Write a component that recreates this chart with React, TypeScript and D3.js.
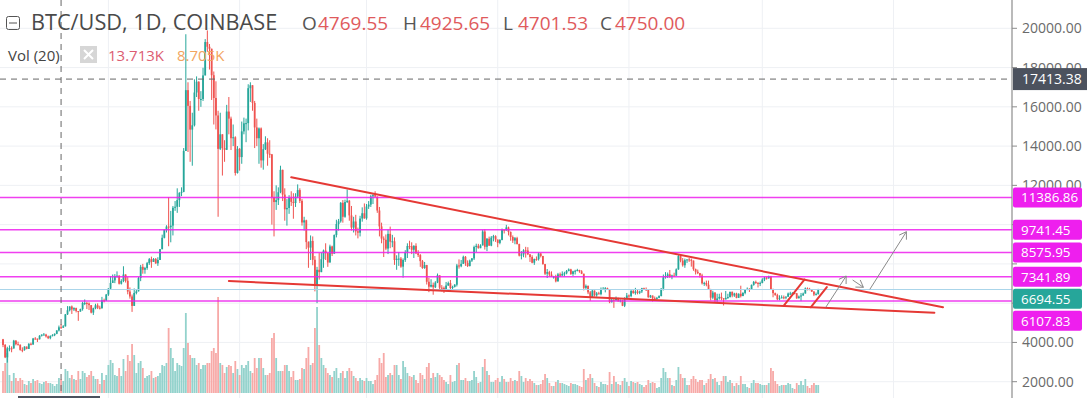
import React, { useEffect, useRef } from 'react';
import * as d3 from 'd3';

// BTC/USD daily candles, Coinbase, from 2017-09-13 to 2018-09-27
const firstDay = '2017-09-13';
const firstOpen = 4160;

const closes = [
    // Sep 2017
    3870, 3240, 3700, 3700, 3690, 4090, 3910, 3880, 3620, 3610, 3790, 3670, 3930, 3890, 4200, 4190, 4160, 4340,
    // Oct
    4400, 4400, 4310, 4220, 4330, 4370, 4440, 4610, 4769.55, 4750, 4820, 5430, 5640, 5830, 5680, 5750, 5600, 5580, 5700, 6010, 6010, 5980, 5900, 5520, 5740, 5890, 5770, 5750, 6150, 6130, 6440,
    // Nov
    6740, 7030, 7160, 7380, 7400, 6990, 7130, 7460, 7140, 6590, 6340, 5860, 6520, 6600, 7280, 7850, 7700, 7790, 8040, 8240, 8100, 8250, 8030, 8200, 8750, 9330, 9740, 9900, 9870, 9950,
    // Dec
    10860, 10910, 11250, 11620, 11670, 13750, 16850, 16050, 14840, 15060, 16730, 17280, 16400, 16400, 17600, 19300, 19060, 18960, 17610, 16450, 15560, 13860, 14600, 13900, 13810, 15760, 15400, 14400, 14450, 12630, 13860,
    // Jan 2018
    13440, 14750, 15160, 15170, 16950, 17100, 16200, 14950, 14400, 14900, 13270, 13840, 14190, 13610, 13580, 11400, 11150, 11250, 11650, 12790, 11530, 10780, 10850, 11380, 11160, 11100, 11430, 11760, 11210, 10110, 10220,
    // Feb
    9110, 8830, 9170, 8210, 6940, 7700, 7580, 8240, 8680, 8550, 8070, 8890, 8520, 9470, 10030, 10170, 11110, 10400, 11150, 11220, 10470, 9850, 10160, 9660, 9590, 10310, 10580, 10320,
    // Mar
    10920, 11020, 11440, 11500, 11430, 10720, 9910, 9290, 9230, 8780, 9530, 9130, 9150, 8200, 8260, 8270, 7860, 8200, 8600, 8910, 8900, 8720, 8920, 8540, 8450, 8140, 7790, 7940, 7090, 6840, 6930,
    // Apr
    6810, 7050, 7420, 6790, 6780, 6620, 6900, 7020, 6770, 6830, 6940, 7920, 7880, 8000, 8360, 8050, 7890, 8170, 8280, 8860, 8920, 8800, 8940, 9650, 8870, 9280, 8930, 9340, 9410, 9240,
    // May
    9070, 9220, 9740, 9700, 9860, 9630, 9370, 9190, 9310, 9010, 8420, 8480, 8690, 8680, 8490, 8350, 8060, 8250, 8240, 8530, 8400, 7990, 7500, 7580, 7460, 7350, 7350, 7110, 7470, 7400, 7490,
    // Jun
    7520, 7640, 7720, 7490, 7620, 7650, 7690, 7620, 7500, 6780, 6880, 6550, 6300, 6640, 6400, 6500, 6460, 6710, 6730, 6760, 6720, 6050, 6170, 6150, 6250, 6090, 6150, 5870, 6200, 6390,
    // Jul
    6360, 6620, 6510, 6590, 6530, 6600, 6760, 6710, 6670, 6300, 6390, 6250, 6220, 6270, 6360, 6740, 7320, 7380, 7470, 7330, 7410, 7400, 7720, 8400, 8170, 7930, 8190, 8230, 8210, 8170, 7730,
    // Aug
    7600, 7530, 7410, 7010, 7030, 6940, 6720, 6280, 6540, 6150, 6240, 6320, 6250, 6190, 6270, 6310, 6580, 6390, 6490, 6270, 6480, 6360, 6520, 6690, 6730, 6710, 6930, 7080, 7040, 6980, 7030,
    // Sep
    7200, 7300, 7270, 7370, 6700, 6510, 6410, 6200, 6250, 6300, 6290, 6330, 6490, 6490, 6520, 6500, 6250, 6340, 6390, 6490, 6750, 6710, 6700, 6590, 6440, 6460, 6694.55,
];

const highs = [
    4180, 3920, 3780, 3850, 3800, 4130, 4120, 4040, 3900, 3750, 3800, 3790, 3960, 3990, 4230, 4270, 4200, 4370,
    4410, 4480, 4440, 4350, 4360, 4420, 4460, 4620, 4860, 4925.65, 4880, 5450, 5850, 5840, 5880, 5790, 5770, 5600, 5720, 6070, 6190, 6070, 6040, 5900, 5770, 5970, 5990, 5870, 6320, 6230, 6470,
    6760, 7380, 7460, 7480, 7620, 7420, 7220, 7880, 7470, 7330, 6800, 6440, 6750, 6720, 7330, 7950, 8000, 7850, 8100, 8300, 8370, 8300, 8300, 8340, 8760, 9490, 9760, 9970, 11400, 10700,
    10950, 11200, 11850, 11650, 11900, 13900, 19697, 17250, 16300, 15700, 17400, 17550, 17300, 16800, 17990, 19450, 19891, 19200, 18960, 17800, 17300, 15800, 15700, 14600, 14300, 16100, 16500, 15500, 15100, 14500, 14000,
    13900, 15250, 15450, 15400, 17150, 17250, 17100, 16300, 15400, 14950, 14950, 14100, 14500, 14400, 14300, 13600, 11700, 12000, 11900, 13000, 12800, 11850, 11300, 11500, 11700, 11600, 11600, 12050, 11850, 11300, 10400,
    10250, 9150, 9450, 9400, 8400, 7850, 8550, 8580, 8730, 9050, 8550, 8980, 8930, 9500, 10250, 10290, 11150, 11250, 11270, 11790, 11250, 10950, 10400, 10500, 9850, 10450, 10880, 11080,
    11050, 11200, 11520, 11550, 11700, 11430, 10900, 10100, 9400, 9500, 9750, 9900, 9480, 9350, 8440, 8600, 8350, 8280, 8700, 9050, 9180, 9100, 8950, 9050, 8700, 8500, 8200, 8100, 7950, 7300, 7220,
    7050, 7120, 7510, 7420, 6920, 6850, 7080, 7100, 7180, 6890, 6970, 8000, 8230, 8200, 8420, 8400, 8180, 8220, 8300, 8930, 9030, 9020, 9000, 9730, 9760, 9320, 9390, 9420, 9480, 9460,
    9240, 9260, 9800, 9760, 9990, 9900, 9650, 9450, 9370, 9380, 9030, 8650, 8750, 8870, 8850, 8490, 8440, 8270, 8380, 8580, 8560, 8410, 8000, 7740, 7650, 7620, 7390, 7450, 7540, 7560, 7620,
    7600, 7690, 7770, 7750, 7650, 7700, 7750, 7700, 7680, 7500, 6950, 6900, 6620, 6700, 6650, 6570, 6580, 6800, 6820, 6820, 6790, 6720, 6260, 6250, 6340, 6280, 6190, 6170, 6300, 6520,
    6440, 6680, 6680, 6780, 6700, 6640, 6780, 6790, 6800, 6680, 6420, 6390, 6340, 6320, 6400, 6760, 7460, 7580, 7560, 7690, 7450, 7550, 7770, 8470, 8490, 8300, 8270, 8230, 8300, 8270, 8170,
    7760, 7710, 7540, 7500, 7090, 7150, 7150, 6730, 6630, 6560, 6480, 6480, 6540, 6260, 6620, 6480, 6580, 6590, 6530, 6530, 6500, 6890, 6560, 6720, 6800, 6760, 6950, 7130, 7150, 7060, 7100,
    7270, 7340, 7350, 7400, 7390, 6740, 6540, 6480, 6400, 6400, 6390, 6350, 6540, 6580, 6560, 6530, 6520, 6390, 6520, 6540, 6800, 6800, 6780, 6720, 6610, 6540, 6730,
];

const lows = [
    3760, 3200, 2972, 3550, 3500, 3690, 3850, 3850, 3580, 3500, 3580, 3650, 3670, 3850, 3890, 4140, 4020, 4150,
    4300, 4370, 4250, 4170, 4160, 4310, 4320, 4420, 4560, 4701.53, 4740, 4810, 5400, 5580, 5450, 5600, 5530, 5100, 5560, 5620, 5900, 5700, 5650, 5480, 5400, 5690, 5700, 5680, 5710, 6040, 6120,
    6370, 6700, 7030, 7020, 7300, 6950, 6950, 7070, 7050, 6450, 6230, 5555, 5860, 6450, 6600, 7120, 7500, 7500, 7700, 7950, 7800, 8100, 8000, 7900, 8200, 8740, 9300, 9600, 8900, 9100,
    9450, 10700, 10600, 10900, 11450, 11650, 13750, 13700, 13200, 13000, 15000, 16500, 15800, 16000, 16300, 17600, 18800, 17900, 16350, 15100, 14850, 10400, 13800, 12500, 13200, 13800, 14600, 13800, 14000, 12500, 12600,
    12750, 13100, 14600, 14200, 14800, 16250, 15800, 13900, 14000, 13100, 12900, 12800, 13800, 13000, 13400, 10000, 9400, 10750, 11000, 11600, 11200, 10200, 9950, 10550, 10950, 10300, 10900, 11350, 11100, 9950, 9700,
    8750, 7800, 8200, 7930, 6600, 6000, 7200, 7580, 7800, 8200, 7850, 8070, 8400, 8520, 9350, 9700, 10100, 10100, 10350, 11100, 10200, 9700, 9600, 9450, 9300, 9400, 10150, 10300,
    10250, 10800, 10900, 11050, 11400, 10600, 9400, 9050, 8350, 8700, 8500, 8800, 8850, 7950, 7700, 7900, 7800, 7300, 8100, 8300, 8750, 8500, 8300, 8500, 8350, 7850, 7750, 7750, 6950, 6560, 6800,
    6430, 6770, 7020, 6710, 6600, 6520, 6610, 6880, 6620, 6670, 6800, 6850, 7760, 7830, 8000, 7900, 7840, 7870, 8100, 8200, 8600, 8780, 8800, 8940, 8730, 8650, 8920, 8900, 9150, 9120,
    8850, 9000, 9200, 9550, 9700, 9450, 9180, 9070, 9000, 8990, 8380, 8230, 8340, 8320, 8450, 8100, 8030, 7950, 8160, 8170, 8330, 7960, 7430, 7280, 7350, 7330, 7250, 7060, 7100, 7340, 7400,
    7360, 7470, 7620, 7440, 7390, 7460, 7620, 7550, 7480, 6650, 6720, 6460, 6120, 6260, 6340, 6330, 6450, 6400, 6670, 6550, 6690, 6000, 6030, 5760, 6100, 6080, 6040, 5850, 5800, 6200,
    6270, 6300, 6480, 6430, 6450, 6460, 6520, 6670, 6620, 6280, 6270, 6080, 6120, 6180, 6250, 6350, 6650, 7250, 7280, 7290, 7220, 7390, 7390, 7700, 8080, 7860, 7800, 8050, 8100, 7860, 7650,
    7460, 7480, 7300, 6950, 6880, 6860, 6680, 6140, 6200, 6030, 6000, 6180, 6150, 5880, 6190, 6220, 6290, 6300, 6320, 6250, 6270, 6290, 6360, 6450, 6660, 6570, 6690, 6890, 6980, 6800, 6870,
    7010, 7120, 7200, 7240, 6690, 6300, 6380, 6150, 6150, 6240, 6200, 6200, 6320, 6420, 6480, 6450, 6220, 6240, 6100, 6380, 6490, 6650, 6680, 6570, 6360, 6400, 6440,
];

// thousands of BTC
const volumes = [
    22, 30, 40, 18, 12, 20, 15, 12, 15, 13, 9, 8, 12, 10, 14, 12, 13, 10,
    9, 11, 12, 10, 10, 9, 7, 9, 15, 13.713, 12, 24, 22, 15, 18, 14, 13, 22, 14, 22, 20, 16, 18, 22, 17, 14, 14, 9, 20, 13, 18,
    28, 33, 30, 18, 17, 25, 17, 34, 22, 38, 32, 49, 38, 20, 30, 32, 25, 15, 17, 18, 22, 15, 16, 17, 20, 28, 27, 30, 65, 45,
    35, 22, 30, 28, 27, 45, 80, 50, 38, 35, 35, 28, 30, 24, 28, 28, 30, 30, 42, 45, 40, 96, 30, 28, 20, 26, 28, 27, 20, 32, 24,
    18, 28, 25, 28, 32, 22, 20, 35, 25, 35, 35, 25, 18, 18, 20, 55, 60, 35, 22, 22, 22, 28, 28, 22, 16, 22, 13, 13, 14, 25, 24,
    35, 46, 28, 30, 65, 86, 48, 35, 28, 25, 20, 18, 16, 22, 25, 15, 20, 22, 15, 22, 25, 22, 17, 15, 12, 15, 13, 12,
    15, 12, 12, 9, 13, 18, 35, 30, 40, 16, 18, 20, 18, 28, 28, 18, 14, 32, 26, 20, 17, 16, 18, 13, 10, 20, 18, 14, 26, 30, 15,
    20, 16, 20, 18, 16, 13, 11, 9, 18, 11, 12, 28, 30, 13, 13, 15, 12, 12, 13, 22, 16, 10, 11, 26, 34, 22, 18, 11, 11, 13,
    15, 11, 17, 14, 11, 11, 15, 12, 13, 12, 22, 17, 11, 15, 12, 14, 12, 10, 8, 8, 9, 13, 19, 15, 10, 7, 7, 11, 13, 10, 10,
    9, 8, 7, 10, 9, 9, 8, 7, 6, 24, 13, 15, 19, 15, 10, 7, 6, 11, 9, 9, 8, 21, 9, 17, 11, 9, 8, 12, 15, 11,
    7, 12, 11, 10, 11, 9, 8, 6, 8, 13, 10, 11, 10, 5, 6, 15, 25, 21, 15, 15, 8, 7, 13, 26, 19, 15, 15, 8, 8, 14, 17,
    14, 11, 13, 13, 8, 10, 14, 19, 14, 15, 11, 8, 12, 17, 17, 11, 13, 10, 7, 10, 8, 17, 9, 9, 6, 5, 10, 13, 10, 10, 9,
    8, 8, 8, 10, 25, 22, 12, 9, 7, 8, 8, 8, 10, 9, 5, 4, 10, 8, 12, 8, 14, 7, 5, 8, 10, 8, 8,
];

const priceTicks = [2000, 4000, 6000, 8000, 10000, 12000, 14000, 16000, 18000, 20000];
const levels = [11386.86, 9741.45, 8575.95, 7341.89, 6107.83];
const lastPrice = 6694.55;
const crossDate = '2017-10-10';
const crossPrice = 17413.38;

// drawings: [date, price] pairs
const trendLines: [string, number][][] = [
    [['2018-01-25', 12411], ['2018-11-24', 5789]],
    [['2017-12-27', 7129], ['2018-11-20', 5514]],
    [['2018-09-11', 5881], ['2018-09-20T16', 7206]],
    [['2018-09-23T12', 5789], ['2018-10-01', 6823]],
];
const arrows: [string, number][][] = [
    [['2018-09-30T12', 5789], ['2018-10-10', 7384]],
    [['2018-10-13', 7180], ['2018-10-18', 6808]],
    [['2018-10-21', 6706], ['2018-11-07', 9640]],
];

const W = 1088;
const H = 398;
const AXIS_X = 1012;
const FONT = "'Open Sans', sans-serif";
const UP = '#26a69a';
const DOWN = '#ef5350';
const MAGENTA = '#ee1fee';

const toDate = (s: string) => new Date(s.length > 10 ? s + ':00:00Z' : s + 'T00:00:00Z');

const App: React.FC = () => {
    const ref = useRef<SVGSVGElement>(null);

    useEffect(() => {
        if (!ref.current) return;
        const svg = d3.select(ref.current);
        svg.selectAll('*').remove();

        const day0 = toDate(firstDay);
        const x = d3.scaleUtc()
            .domain([day0, toDate('2018-12-01')])
            .range([3, 3 + 444 * 2.151]);
        const y = d3.scaleLinear().domain([2000, 20000]).range([381.7, 28.3]);
        const vy = d3.scaleLinear().domain([0, 100]).range([393, 293]);

        const bars = closes.map((c, i) => ({
            date: d3.utcDay.offset(day0, i),
            open: i ? closes[i - 1] : firstOpen,
            close: c,
            high: highs[i],
            low: lows[i],
            vol: volumes[i],
        }));

        svg.append('rect').attr('width', W).attr('height', H).attr('fill', '#fff');

        svg.append('defs').append('clipPath').attr('id', 'plot')
            .append('rect').attr('width', AXIS_X).attr('height', H);

        const plot = svg.append('g').attr('clip-path', 'url(#plot)');

        // grid
        plot.selectAll('.vg')
            .data(x.ticks(d3.utcMonth.every(2)!))
            .enter().append('line')
            .attr('x1', d => x(d)).attr('x2', d => x(d))
            .attr('y1', 0).attr('y2', H)
            .attr('stroke', '#eef0f4');
        plot.selectAll('.hg')
            .data(priceTicks)
            .enter().append('line')
            .attr('x1', 0).attr('x2', AXIS_X)
            .attr('y1', d => y(d)).attr('y2', d => y(d))
            .attr('stroke', '#eef0f4');

        // volume
        plot.selectAll('.vol')
            .data(bars)
            .enter().append('rect')
            .attr('x', d => x(d.date) - 0.9)
            .attr('width', 1.8)
            .attr('y', d => vy(d.vol))
            .attr('height', d => vy(0) - vy(d.vol))
            .attr('fill', d => d.close >= d.open ? '#93d2cc' : '#f7a9a7');

        // candles
        const candle = plot.selectAll('.candle')
            .data(bars)
            .enter().append('g')
            .attr('fill', d => d.close >= d.open ? UP : DOWN)
            .attr('stroke', d => d.close >= d.open ? UP : DOWN);
        candle.append('line')
            .attr('x1', d => x(d.date)).attr('x2', d => x(d.date))
            .attr('y1', d => y(Math.max(d.high, d.open, d.close)))
            .attr('y2', d => y(Math.min(d.low, d.open, d.close)))
            .attr('stroke-width', 1);
        candle.append('rect')
            .attr('x', d => x(d.date) - 0.9)
            .attr('width', 1.8)
            .attr('y', d => y(Math.max(d.open, d.close)))
            .attr('height', d => Math.max(1, Math.abs(y(d.open) - y(d.close))))
            .attr('stroke', 'none');

        // horizontal levels
        plot.append('line')
            .attr('x1', 0).attr('x2', AXIS_X)
            .attr('y1', y(lastPrice)).attr('y2', y(lastPrice))
            .attr('stroke', '#a9d5ea').attr('stroke-width', 1);
        plot.selectAll('.lvl')
            .data(levels)
            .enter().append('line')
            .attr('x1', 0).attr('x2', AXIS_X)
            .attr('y1', d => y(d)).attr('y2', d => y(d))
            .attr('stroke', MAGENTA).attr('stroke-width', 1.5).attr('opacity', 0.85);

        // trend lines
        const pt = (p: [string, number]) => [x(toDate(p[0])), y(p[1])];
        trendLines.forEach(l => {
            const [a, b] = l.map(pt);
            plot.append('line')
                .attr('x1', a[0]).attr('y1', a[1]).attr('x2', b[0]).attr('y2', b[1])
                .attr('stroke', '#e53935').attr('stroke-width', 2).attr('stroke-linecap', 'round');
        });

        // arrows
        arrows.forEach(l => {
            const [a, b] = l.map(pt);
            const g = plot.append('g').attr('stroke', '#8a8a8a').attr('stroke-width', 1).attr('fill', 'none');
            g.append('line').attr('x1', a[0]).attr('y1', a[1]).attr('x2', b[0]).attr('y2', b[1]);
            const ang = Math.atan2(b[1] - a[1], b[0] - a[0]);
            const len = 8;
            const head = [ang + Math.PI * 0.82, ang - Math.PI * 0.82].map(t => [b[0] + len * Math.cos(t), b[1] + len * Math.sin(t)]);
            g.append('path').attr('d', `M${head[0][0]},${head[0][1]}L${b[0]},${b[1]}L${head[1][0]},${head[1][1]}`);
        });

        // crosshair
        const cx = x(toDate(crossDate));
        const cy = y(crossPrice);
        plot.append('line').attr('x1', cx).attr('x2', cx).attr('y1', 0).attr('y2', H)
            .attr('stroke', '#666').attr('stroke-dasharray', '6,5');
        plot.append('line').attr('x1', 0).attr('x2', AXIS_X).attr('y1', cy).attr('y2', cy)
            .attr('stroke', '#666').attr('stroke-dasharray', '6,5');

        // price labels, stacked so that they do not overlap
        const labels = [
            ...levels.map(v => ({ v, color: MAGENTA })),
            { v: lastPrice, color: UP },
        ].sort((a, b) => b.v - a.v);
        let prev = -Infinity;
        const placed = labels.map(l => {
            const ly = Math.max(y(l.v), prev + 22);
            prev = ly;
            return { ...l, ly };
        });

        // price axis; tick labels that sit under a price label are hidden
        const axis = svg.append('g').attr('font-family', FONT).attr('font-size', 14);
        axis.append('line').attr('x1', AXIS_X).attr('x2', AXIS_X).attr('y1', 0).attr('y2', H)
            .attr('stroke', '#8c8c8c').attr('stroke-width', 1.2);
        axis.selectAll('.tk').data(priceTicks).enter().append('line')
            .attr('x1', AXIS_X).attr('x2', AXIS_X + 5)
            .attr('y1', d => y(d)).attr('y2', d => y(d))
            .attr('stroke', '#8c8c8c');
        const shownTicks = priceTicks.filter(t => placed.every(p => Math.abs(p.ly - y(t)) >= 11.5));
        axis.selectAll('.tl').data(shownTicks).enter().append('text')
            .attr('x', 1022).attr('y', d => y(d)).attr('dy', '0.36em')
            .attr('fill', '#6a6a6a')
            .text(d => d3.format('.2f')(d));

        placed.forEach(l => {
            axis.append('rect').attr('x', AXIS_X + 1).attr('y', l.ly - 10).attr('width', 69).attr('height', 20)
                .attr('rx', 2).attr('fill', l.color);
            axis.append('text').attr('x', 1021).attr('y', l.ly).attr('dy', '0.36em')
                .attr('font-size', 13.4).attr('fill', '#fff').text(d3.format('.2f')(l.v));
        });
        axis.append('rect').attr('x', AXIS_X + 1).attr('y', cy - 11).attr('width', 74).attr('height', 22)
            .attr('fill', '#4c525e');
        axis.append('text').attr('x', 1022).attr('y', cy).attr('dy', '0.36em')
            .attr('fill', '#fff').text(d3.format('.2f')(crossPrice));

        // time axis label of the crosshair (mostly cut off)
        svg.append('rect').attr('x', 18).attr('y', 396).attr('width', 82).attr('height', 20).attr('fill', '#4c525e');

        // legend
        const legend = svg.append('g').attr('font-family', FONT);
        legend.append('rect').attr('x', 6.5).attr('y', 16.5).attr('width', 13).attr('height', 13)
            .attr('rx', 2).attr('fill', 'none').attr('stroke', '#555');
        legend.append('line').attr('x1', 9).attr('x2', 17).attr('y1', 23).attr('y2', 23).attr('stroke', '#555');
        legend.append('text').attr('x', 31).attr('y', 30).attr('font-size', 21.7).attr('fill', '#4a4a4a')
            .text('BTC/USD, 1D, COINBASE');
        const ohlc: [string, string, number, number][] = [
            ['O', '4769.55', 302, 318], ['H', '4925.65', 403, 420],
            ['L', '4701.53', 503, 518], ['C', '4750.00', 600, 615],
        ];
        ohlc.forEach(([k, v, kx, vx]) => {
            legend.append('text').attr('x', kx).attr('y', 30).attr('font-size', 19).attr('fill', '#555').text(k);
            legend.append('text').attr('x', vx).attr('y', 30).attr('font-size', 19).attr('fill', '#e05a5c').text(v);
        });
        legend.append('text').attr('x', 8).attr('y', 61).attr('font-size', 15).attr('fill', '#444').text('Vol (20)');
        legend.append('rect').attr('x', 80).attr('y', 46).attr('width', 17).attr('height', 17).attr('fill', '#d6d6d6');
        legend.append('path').attr('d', 'M84,50L93,59M93,50L84,59').attr('stroke', '#fff').attr('stroke-width', 2);
        legend.append('text').attr('x', 108).attr('y', 61).attr('font-size', 15).attr('fill', '#dc5d72').text('13.713K');
        legend.append('text').attr('x', 177).attr('y', 61).attr('font-size', 15).attr('fill', '#f2a55e').text('8.705K');
    }, []);

    return (
        <div style={{ position: 'absolute', left: 0, top: 0 }}>
            <svg ref={ref} width={W} height={H} style={{ display: 'block' }}></svg>
        </div>
    );
};

export default App;
